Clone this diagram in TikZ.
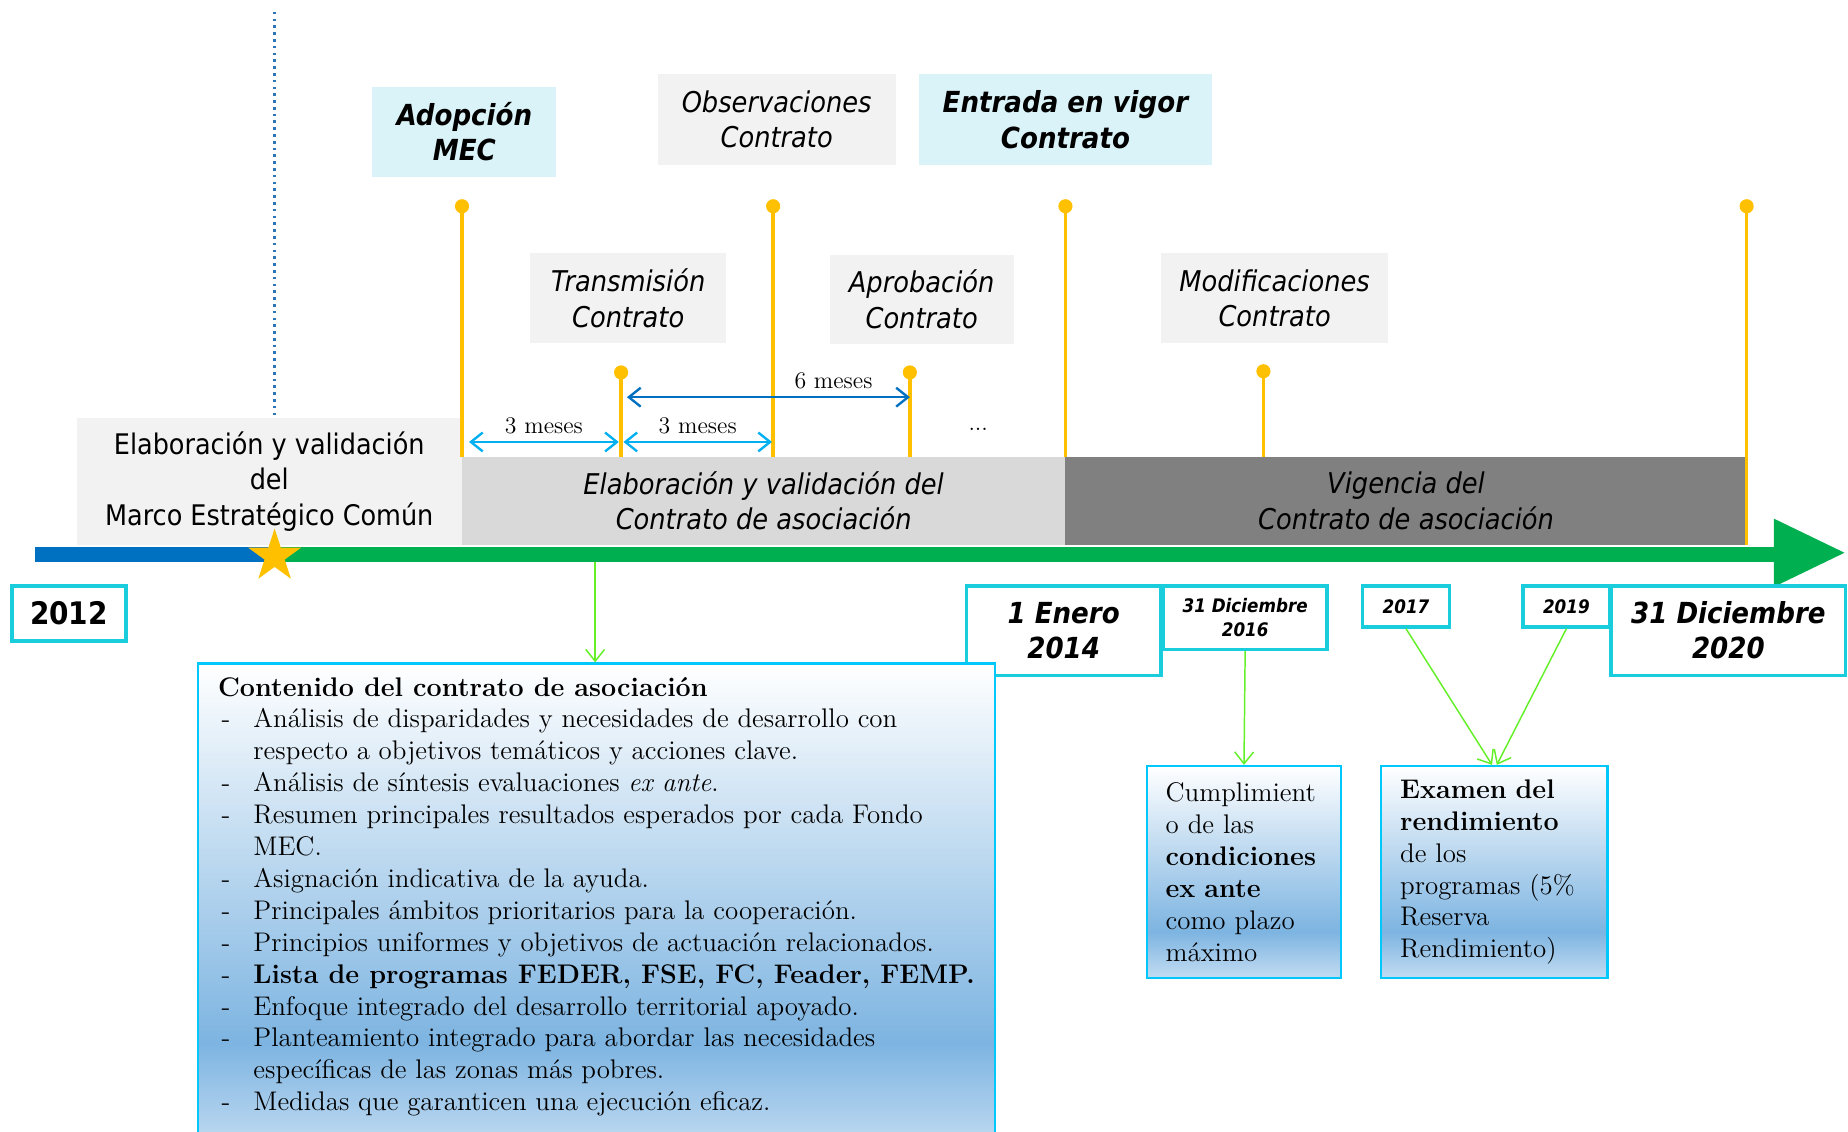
\documentclass[tikz,border=0pt]{standalone}
\usepackage{fontspec}
\usetikzlibrary{shapes.geometric,arrows.meta}
\newfontfamily\tlfont{DejaVu Sans Condensed}

\definecolor{cardgray}{HTML}{F2F2F2}
\definecolor{keycyan}{HTML}{DAF3F8}
\definecolor{elabgray}{HTML}{D9D9D9}
\definecolor{vigray}{HTML}{808080}
\definecolor{markorange}{HTML}{FFC000}
\definecolor{axisblue}{HTML}{0070C0}
\definecolor{axisgreen}{HTML}{00B050}
\definecolor{spancyan}{HTML}{00B0F0}
\definecolor{datecyan}{RGB}{25,205,220}
\definecolor{panelcyan}{RGB}{0,200,250}
\definecolor{panelblue}{RGB}{125,180,225}
\definecolor{panellow}{RGB}{195,220,242}
\definecolor{dropgreen}{RGB}{100,240,40}
\definecolor{dotblue}{HTML}{2E75B6}

\pgfdeclareverticalshading{panelshade}{100bp}{color(0bp)=(panellow); color(25bp)=(panellow); color(36bp)=(panelblue); color(75bp)=(white); color(100bp)=(white)}

\newcommand{\itm}{\makebox[6mm][l]{\hspace{0.6mm}-}}
\newcommand{\cont}{\hspace*{6mm}}

\tikzset{
  cardbox/.style={fill=cardgray, inner sep=0pt, align=center, font=\tlfont\itshape\fontsize{13.8}{17}\selectfont},
  keycard/.style={cardbox, fill=keycyan, font=\tlfont\bfseries\itshape\fontsize{14}{17}\selectfont},
  phasebar/.style={inner sep=0pt, align=center, font=\tlfont\itshape\fontsize{13.8}{17}\selectfont},
  datebox/.style={draw=datecyan, line width=0.6mm, fill=white, inner sep=0pt, align=center, font=\tlfont\bfseries\itshape\fontsize{14}{17}\selectfont},
  smalldate/.style={datebox, font=\tlfont\bfseries\itshape\fontsize{9}{11.5}\selectfont},
  panel/.style={draw=panelcyan, line width=0.4mm, shading=panelshade, inner xsep=3.2mm, inner ysep=0pt, align=left, font=\fontsize{13}{15.4}\selectfont},
  stem/.style={draw=markorange, line width=0.6mm},
  span/.style={<->, line width=0.4mm},
  drop/.style={->, draw=dropgreen, line width=0.25mm},
  >={Straight Barb[length=2mm,width=3.2mm]}
}

\begin{document}
\begin{tikzpicture}[x=0.2mm,y=-0.2mm]

    \useasboundingbox (0,0) rectangle (1568,960);
    \clip (0,0) rectangle (1568,960);

    \draw[dotblue, line width=0.45mm, dotted] (233,10) -- (233,355);

    \node[keycard, minimum width=31.2mm, minimum height=15.2mm] (adop) at (394,112) {Adopción\\MEC};
    \node[cardbox, minimum width=40.4mm, minimum height=15.4mm] (obs) at (659,101.5) {Observaciones\\Contrato};
    \node[keycard, minimum width=49.6mm, minimum height=15.4mm] (vigor) at (904,101.5) {Entrada en vigor\\Contrato};
    \node[cardbox, minimum width=33.2mm, minimum height=15.2mm] (trans) at (533,253) {Transmisión\\Contrato};
    \node[cardbox, minimum width=31.2mm, minimum height=15.2mm] (aprob) at (782,254) {Aprobación\\Contrato};
    \node[cardbox, minimum width=38.6mm, minimum height=15.2mm] (modif) at (1081.5,253) {Modificaciones\\Contrato};

    \node[cardbox, font=\tlfont\fontsize{13.7}{17}\selectfont, minimum width=65.4mm, minimum height=21.4mm] (marco) at (228.5,408.5) {Elaboración y validación\\del\\Marco Estratégico Común};
    \node[phasebar, fill=elabgray, minimum width=102.4mm, minimum height=14.8mm] (elab) at (648,425) {Elaboración y validación del\\Contrato de asociación};
    \node[phasebar, fill=vigray, minimum width=115.6mm, minimum height=14.8mm] (vig) at (1193,425) {Vigencia del\\Contrato de asociación};

    \foreach \sx/\sy in {392/175,527/316,656/175,772/316,904/175,1072/315}{
        \draw[stem] (\sx,\sy) -- (\sx,388);
        \fill[markorange] (\sx,\sy) circle[radius=1.2mm];
    }
    \draw[stem] (1482,175) -- (1482,462);
    \fill[markorange] (1482,175) circle[radius=1.2mm];

    \coordinate (m0) at (398,375);
    \coordinate (m1) at (525,375);
    \coordinate (m2) at (529,375);
    \coordinate (m3) at (655,375);
    \coordinate (m4) at (532,337);
    \coordinate (m5) at (772,337);
    \draw[span, spancyan] (m0) -- node[above, black, font=\fontsize{11.5}{13}\selectfont] {3 meses} (m1);
    \draw[span, spancyan] (m2) -- node[above, black, font=\fontsize{11.5}{13}\selectfont] {3 meses} (m3);
    \draw[span, axisblue] (m4) -- node[above, pos=0.73, black, font=\fontsize{11.5}{13}\selectfont] {6 meses} (m5);
    \node[font=\fontsize{11.5}{13}\selectfont] (dots) at (830,364) {...};

    \draw[axisblue, line width=2.6mm] (30,470.5) -- (233,470.5);
    \draw[axisgreen, line width=2.6mm] (233,470.5) -- (1510,470.5);
    \fill[axisgreen] (1505,440) -- (1565,469) -- (1505,498) -- cycle;
    \node[star, star points=5, star point ratio=2.6, fill=markorange, inner sep=0pt, minimum size=9.4mm] (hoy) at (233,472) {};

    \node[datebox, font=\tlfont\bfseries\fontsize{15}{17}\selectfont, minimum width=19.4mm, minimum height=9.4mm] (y2012) at (58.5,520.5) {2012};
    \node[datebox, minimum width=33mm, minimum height=15.2mm] (d2014) at (902.5,535) {1 Enero\\2014};
    \node[smalldate, minimum width=27.8mm, minimum height=10.8mm] (d2016) at (1056.5,524) {31 Diciembre\\2016};
    \node[smalldate, minimum width=14.8mm, minimum height=7mm] (y2017) at (1193,514.5) {2017};
    \node[smalldate, minimum width=14.8mm, minimum height=7mm] (y2019) at (1329,514.5) {2019};
    \node[datebox, minimum width=39.8mm, minimum height=15.2mm] (d2020) at (1466.5,535) {31 Diciembre\\2020};

    \node[panel, anchor=north west, inner xsep=3.4mm, inner ysep=2.3mm] (contenido) at (167,562) {\parbox[t][78mm][t]{128.4mm}{\raggedright
        \textbf{Contenido del contrato de asociación}\\
        \itm Análisis de disparidades y necesidades de desarrollo con\\
        \cont respecto a objetivos temáticos y acciones clave.\\
        \itm Análisis de síntesis evaluaciones \textit{ex ante}.\\
        \itm Resumen principales resultados esperados por cada Fondo\\
        \cont MEC.\\
        \itm Asignación indicativa de la ayuda.\\
        \itm Principales ámbitos prioritarios para la cooperación.\\
        \itm Principios uniformes y objetivos de actuación relacionados.\\
        \itm \textbf{Lista de programas FEDER, FSE, FC, Feader, FEMP.}\\
        \itm Enfoque integrado del desarrollo territorial apoyado.\\
        \itm Planteamiento integrado para abordar las necesidades\\
        \cont específicas de las zonas más pobres.\\
        \itm Medidas que garanticen una ejecución eficaz.}};
    \node[panel, text width=26.6mm, minimum width=33mm, minimum height=36mm] (cumpl) at (1055.5,740)
        {Cumplimient\\o de las\\\textbf{condiciones}\\\textbf{ex ante}\\como plazo\\máximo};
    \node[panel, text width=32mm, minimum width=38.4mm, minimum height=36mm] (examen) at (1268,740)
        {\textbf{Examen del}\\\textbf{rendimiento}\\de los\\programas (5\%\\Reserva\\Rendimiento)};

    \coordinate (axdrop) at (505,477);
    \draw[drop] (axdrop) -- (contenido.north -| axdrop);
    \draw[drop] (d2016.south) -- (cumpl.north);
    \draw[drop] (y2017.south) -- ([xshift=-0.4mm]examen.north);
    \draw[drop] (y2019.south) -- ([xshift=0.4mm]examen.north);

\end{tikzpicture}
\end{document}
